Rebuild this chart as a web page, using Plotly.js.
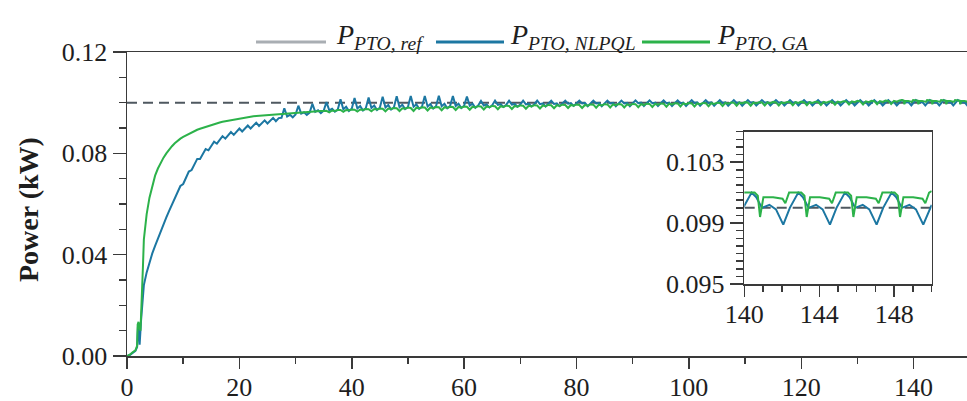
<!DOCTYPE html>
<html><head><meta charset="utf-8">
<script src="https://cdn.plot.ly/plotly-3.0.1.min.js"></script>
<style>html,body{margin:0;padding:0;background:#fff}</style>
</head><body><div id="chart" style="width:967px;height:401px"></div>
<script>
// ---- series names ----
const seriesNames = ['<i>P</i><sub><i>PTO, ref</i></sub>', '<i>P</i><sub><i>PTO, NLPQL</i></sub>', '<i>P</i><sub><i>PTO, GA</i></sub>'];

// ---- reference power (kW) ----
const refT = [0, 150];
const refP = [0.1, 0.1];

// ---- start-up segment ----
const blueStartT = [0, 0.5, 1, 1.5, 1.8, 1.95, 2.1, 2.25, 2.5, 2.75];
const blueStartP = [0, 0.0004, 0.0012, 0.0020, 0.0035, 0.0115, 0.0105, 0.0045, 0.0140, 0.0215];
const greenStartT = [0, 0.5, 1, 1.5, 1.8, 1.9, 2.05, 2.2, 2.4, 2.55, 2.7, 2.85];
const greenStartP = [0, 0.0005, 0.0015, 0.0022, 0.0040, 0.0125, 0.0135, 0.0110, 0.0100, 0.0170, 0.0250, 0.0360];

// ---- middle segment (shared time samples, s) ----
const tMid = [
3,3.5,4,4.5,5,5.5,6,6.5,7,7.5,
8,8.5,9,9.5,10,10.5,11,11.5,12,12.5,
13,13.5,14,14.5,15,15.5,16,16.5,17,17.5,
18,18.5,19,19.5,20,20.5,21,21.5,22,22.5,
23,23.5,24,24.5,25,25.5,26,26.5,27,27.5,
28,28.5,29,29.5,30,30.5,31,31.5,32,32.5,
33,33.5,34,34.5,35,35.5,36,36.5,37,37.5,
38,38.5,39,39.5,40,40.5,41,41.5,42,42.5,
43,43.5,44,44.5,45,45.5,46,46.5,47,47.5,
48,48.5,49,49.5,50,50.5,51,51.5,52,52.5,
53,53.5,54,54.5,55,55.5,56,56.5,57,57.5,
58,58.5,59,59.5,60,60.5,61,61.5,62,62.5,
63,63.5,64,64.5,65,65.5,66,66.5,67,67.5,
68,68.5,69,69.5,70,70.5,71,71.5,72,72.5,
73,73.5,74,74.5,75,75.5,76,76.5,77,77.5,
78,78.5,79,79.5,80,80.5,81,81.5,82,82.5,
83,83.5,84,84.5,85,85.5,86,86.5,87,87.5,
88,88.5,89,89.5,90,90.5,91,91.5,92,92.5,
93,93.5,94,94.5,95,95.5,96,96.5,97,97.5,
98,98.5,99,99.5,100,100.5,101,101.5,102,102.5,
103,103.5,104,104.5,105,105.5,106,106.5,107,107.5,
108,108.5,109,109.5,110,110.5,111,111.5,112,112.5,
113,113.5,114,114.5,115,115.5,116,116.5,117,117.5,
118,118.5,119,119.5,120,120.5,121,121.5,122,122.5,
123,123.5,124,124.5,125,125.5,126,126.5,127,127.5,
128,128.5,129,129.5,130,130.5,131,131.5,132,132.5,
133,133.5,134,134.5,135,135.5,136,136.5,137,137.5];

const blueMidP = [
0.0280,0.0330,0.0370,0.0405,0.0435,0.0465,0.0492,0.0520,0.0547,0.0573,
0.0598,0.0620,0.0643,0.0671,0.0679,0.0706,0.0728,0.0734,0.0758,0.0778,
0.0778,0.0799,0.0817,0.0812,0.0831,0.0846,0.0838,0.0854,0.0868,0.0858,
0.0872,0.0884,0.0873,0.0887,0.0898,0.0886,0.0899,0.0910,0.0898,0.0910,
0.0921,0.0908,0.0920,0.0930,0.0918,0.0930,0.0940,0.0927,0.0939,0.0940,
0.0978,0.0945,0.0952,0.0942,0.0953,0.0988,0.0957,0.0962,0.0952,0.0961,
0.0995,0.0964,0.0970,0.0959,0.0968,0.1002,0.0970,0.0976,0.0964,0.0972,
0.1013,0.0974,0.0984,0.0967,0.0976,0.1018,0.0977,0.0987,0.0969,0.0978,
0.1020,0.0979,0.0989,0.0971,0.0980,0.1023,0.0981,0.0991,0.0973,0.0981,
0.1025,0.0982,0.0992,0.0975,0.0983,0.1026,0.0984,0.0994,0.0976,0.0984,
0.1026,0.0985,0.0995,0.0977,0.0986,0.1027,0.0986,0.0996,0.0978,0.0987,
0.1026,0.0987,0.0996,0.0979,0.0988,0.1024,0.0988,0.0996,0.0980,0.0989,
0.1007,0.0989,0.0993,0.0981,0.0990,0.1008,0.0991,0.0994,0.0983,0.0992,
0.1008,0.0992,0.0995,0.0984,0.0993,0.1008,0.0993,0.0996,0.0985,0.0994,
0.1008,0.0994,0.0997,0.0985,0.0995,0.1008,0.0995,0.0997,0.0986,0.0996,
0.1008,0.0996,0.0998,0.0987,0.0996,0.1008,0.0997,0.0999,0.0986,0.0997,
0.1008,0.0997,0.0999,0.0986,0.0997,0.1008,0.0997,0.0999,0.0986,0.0997,
0.1008,0.0997,0.0999,0.0986,0.0997,0.1009,0.0998,0.1000,0.0987,0.0998,
0.1009,0.0998,0.1000,0.0987,0.0998,0.1009,0.0998,0.1000,0.0987,0.0998,
0.1009,0.0998,0.1000,0.0987,0.0998,0.1010,0.0999,0.1001,0.0988,0.0999,
0.1010,0.0999,0.1001,0.0988,0.0999,0.1010,0.0999,0.1001,0.0988,0.0999,
0.1010,0.0999,0.1001,0.0988,0.0999,0.1010,0.1000,0.1002,0.0989,0.1000,
0.1010,0.1000,0.1002,0.0989,0.1000,0.1010,0.1000,0.1002,0.0989,0.1000,
0.1010,0.1000,0.1002,0.0989,0.1000,0.1010,0.1000,0.1002,0.0989,0.1000,
0.1010,0.1000,0.1002,0.0989,0.1000,0.1010,0.1000,0.1002,0.0989,0.1000,
0.1010,0.1000,0.1002,0.0989,0.1000,0.1010,0.1000,0.1002,0.0989,0.1000,
0.1010,0.1000,0.1002,0.0989,0.1000,0.1010,0.1000,0.1002,0.0989,0.1000];

const greenMidP = [
0.0460,0.0560,0.0625,0.0675,0.0712,0.0740,0.0763,0.0783,0.0800,0.0815,
0.0828,0.0840,0.0850,0.0858,0.0865,0.0871,0.0877,0.0883,0.0888,0.0893,
0.0897,0.0901,0.0905,0.0909,0.0913,0.0916,0.0919,0.0922,0.0925,0.0927,
0.0930,0.0932,0.0934,0.0936,0.0938,0.0940,0.0941,0.0943,0.0944,0.0946,
0.0947,0.0948,0.0949,0.0950,0.0951,0.0952,0.0953,0.0954,0.0955,0.0956,
0.0957,0.0958,0.0959,0.0960,0.0961,0.0962,0.0962,0.0963,0.0964,0.0964,
0.0965,0.0966,0.0966,0.0967,0.0967,0.0968,0.0962,0.0969,0.0967,0.0971,
0.0971,0.0964,0.0971,0.0970,0.0973,0.0972,0.0965,0.0973,0.0971,0.0975,
0.0974,0.0966,0.0975,0.0973,0.0977,0.0976,0.0966,0.0977,0.0975,0.0979,
0.0978,0.0967,0.0978,0.0976,0.0981,0.0979,0.0967,0.0980,0.0977,0.0982,
0.0981,0.0969,0.0981,0.0978,0.0983,0.0982,0.0970,0.0982,0.0979,0.0984,
0.0983,0.0971,0.0983,0.0980,0.0985,0.0984,0.0972,0.0984,0.0981,0.0986,
0.0985,0.0973,0.0985,0.0982,0.0987,0.0986,0.0974,0.0986,0.0983,0.0988,
0.0987,0.0975,0.0987,0.0984,0.0989,0.0988,0.0976,0.0988,0.0985,0.0990,
0.0989,0.0977,0.0989,0.0986,0.0991,0.0990,0.0978,0.0990,0.0987,0.0992,
0.0991,0.0979,0.0991,0.0988,0.0993,0.0991,0.0979,0.0991,0.0988,0.0993,
0.0992,0.0980,0.0992,0.0989,0.0994,0.0993,0.0981,0.0993,0.0990,0.0995,
0.0993,0.0981,0.0993,0.0990,0.0995,0.0994,0.0982,0.0994,0.0991,0.0996,
0.0995,0.0983,0.0995,0.0992,0.0997,0.0996,0.0984,0.0996,0.0993,0.0998,
0.0997,0.0985,0.0997,0.0994,0.0999,0.0997,0.0985,0.0997,0.0994,0.0999,
0.0998,0.0986,0.0998,0.0995,0.1000,0.0999,0.0987,0.0999,0.0996,0.1001,
0.1000,0.0988,0.1000,0.0997,0.1002,0.1000,0.0988,0.1000,0.0997,0.1002,
0.1001,0.0989,0.1001,0.0998,0.1003,0.1001,0.0989,0.1001,0.0998,0.1003,
0.1002,0.0990,0.1002,0.0999,0.1004,0.1002,0.0990,0.1002,0.0999,0.1004,
0.1003,0.0991,0.1003,0.1000,0.1005,0.1004,0.0992,0.1004,0.1001,0.1006,
0.1005,0.0993,0.1005,0.1002,0.1007,0.1005,0.0993,0.1005,0.1002,0.1007,
0.1006,0.0994,0.1006,0.1003,0.1008,0.1007,0.0995,0.1007,0.1004,0.1009];

// ---- end segment (detail shown in the inset) ----
const blueEndT = [137.90,138.15,138.45,138.85,139.20,139.59,139.94,
140.39,140.64,140.94,141.34,141.69,142.08,142.43,
142.88,143.13,143.43,143.83,144.18,144.57,144.92,
145.37,145.62,145.92,146.32,146.67,147.06,147.41,
147.86,148.11,148.41,148.81,149.16,149.55,149.90,150.00];
const blueEndP = [0.1010,0.1007,0.1000,0.1002,0.0999,0.0989,0.1000,
0.1010,0.1007,0.1000,0.1002,0.0999,0.0989,0.1000,
0.1010,0.1007,0.1000,0.1002,0.0999,0.0989,0.1000,
0.1010,0.1007,0.1000,0.1002,0.0999,0.0989,0.1000,
0.1010,0.1007,0.1000,0.1002,0.0999,0.0989,0.1000,0.1002];
const greenEndT = [137.95,138.23,138.35,138.53,139.05,139.55,139.70,139.90,
140.55,140.72,140.84,141.02,141.54,142.04,142.19,142.39,
143.04,143.21,143.33,143.51,144.03,144.53,144.68,144.88,
145.53,145.70,145.82,146.00,146.52,147.02,147.17,147.37,
148.02,148.19,148.31,148.49,149.01,149.51,149.66,149.86,150.00];
const greenEndP = [0.1010,0.1008,0.0994,0.1007,0.1007,0.1006,0.1003,0.1010,
0.1010,0.1008,0.0994,0.1007,0.1007,0.1006,0.1003,0.1010,
0.1010,0.1008,0.0994,0.1007,0.1007,0.1006,0.1003,0.1010,
0.1010,0.1008,0.0994,0.1007,0.1007,0.1006,0.1003,0.1010,
0.1010,0.1008,0.0994,0.1007,0.1007,0.1006,0.1003,0.1010,0.1011];

const tBlue = blueStartT.concat(tMid, blueEndT);
const pBlue = blueStartP.concat(blueMidP, blueEndP);
const tGreen = greenStartT.concat(tMid, greenEndT);
const pGreen = greenStartP.concat(greenMidP, greenEndP);

const FONT = '"Liberation Serif", "Times New Roman", serif';
const AX = '#3a3a3a';
const C_REF = '#4f5860', C_REF_LEG = '#a9aeb3', C_BLUE = '#1c77a2', C_GREEN = '#2cb24a';

function mk(x, y, color, dash, xa, ya) {
  return {x: x, y: y, xaxis: xa, yaxis: ya, type: 'scatter', mode: 'lines',
    line: {color: color, width: 2, dash: dash || 'solid'}, showlegend: false, hoverinfo: 'skip'};
}
const traces = [
  mk(refT, refP, C_REF, '10px,6px', 'x', 'y'),
  mk(tBlue, pBlue, C_BLUE, null, 'x', 'y'),
  mk(tGreen, pGreen, C_GREEN, null, 'x', 'y'),
  mk(refT, refP, C_REF, '10px,6px', 'x2', 'y2'),
  mk(tBlue, pBlue, C_BLUE, null, 'x2', 'y2'),
  mk(tGreen, pGreen, C_GREEN, null, 'x2', 'y2')
];

const axBase = {showline: true, linecolor: AX, linewidth: 1.5, ticks: 'outside', tickcolor: AX, tickwidth: 1.5,
  showgrid: false, zeroline: false, tickfont: {family: FONT, size: 26, color: '#1e1e1e'}};

// custom legend (line samples + labels), in paper coordinates
const W = 840, H = 304, L = 127, T = 52;
const px = v => (v - L) / W, py = v => (T + H - v) / H;
const legLines = [[256, 326, C_REF_LEG], [436, 504, C_BLUE], [642, 710, C_GREEN]];
const legText = [334, 508, 715];
const shapes = legLines.map(d => ({type: 'line', xref: 'paper', yref: 'paper',
  x0: px(d[0]), x1: px(d[1]), y0: py(42), y1: py(42), line: {color: d[2], width: 3}}));
const annotations = legText.map((x, i) => ({xref: 'paper', yref: 'paper', x: px(x), y: py(36),
  xanchor: 'left', yanchor: 'middle', showarrow: false, text: seriesNames[i],
  font: {family: FONT, size: 28, color: '#1e1e1e'}}));
annotations.push({xref: 'paper', yref: 'paper', x: px(28), y: py(210), xanchor: 'center', yanchor: 'middle',
  textangle: -90, showarrow: false, text: '<b>Power (kW)</b>', font: {family: FONT, size: 28, color: '#1e1e1e'}});

const layout = {
  width: 967, height: 401, margin: {l: L, r: 0, t: T, b: 401 - T - H},
  paper_bgcolor: '#ffffff', plot_bgcolor: 'rgba(0,0,0,0)', showlegend: false,
  font: {family: FONT, size: 26, color: '#1e1e1e'},
  xaxis: Object.assign({}, axBase, {domain: [0, 1], range: [0, 149.5], tickmode: 'linear', tick0: 0, dtick: 20,
    ticklen: 11, mirror: true, ticklabelstandoff: -4,
    minor: {tick0: 0, dtick: 10, ticks: 'outside', ticklen: 6, tickwidth: 1.5, tickcolor: AX, showgrid: false}}),
  yaxis: Object.assign({}, axBase, {domain: [0, 1], range: [0, 0.12], tickmode: 'linear', tick0: 0, dtick: 0.04,
    tickformat: '.2f', ticklen: 13,
    minor: {tick0: 0, dtick: 0.01, ticks: 'outside', ticklen: 7, tickwidth: 1.5, tickcolor: AX, showgrid: false}}),
  xaxis2: Object.assign({}, axBase, {domain: [px(744.3), px(931.7)], anchor: 'y2', range: [140, 150],
    tickmode: 'linear', tick0: 140, dtick: 4, ticklen: 11, mirror: true, ticklabelstandoff: -5,
    minor: {tick0: 140, dtick: 1, ticks: 'outside', ticklen: 6, tickwidth: 1.5, tickcolor: AX, showgrid: false}}),
  yaxis2: Object.assign({}, axBase, {domain: [py(284), py(131.7)], anchor: 'x2', range: [0.095, 0.105],
    tickmode: 'linear', tick0: 0.095, dtick: 0.004, tickformat: '.3f', ticklen: 13, mirror: true,
    minor: {tick0: 0.095, dtick: 0.0005, ticks: 'outside', ticklen: 7, tickwidth: 1.5, tickcolor: AX, showgrid: false}}),
  shapes: shapes,
  annotations: annotations
};

Plotly.newPlot('chart', traces, layout, {staticPlot: true, displayModeBar: false});
</script>
</body></html>
